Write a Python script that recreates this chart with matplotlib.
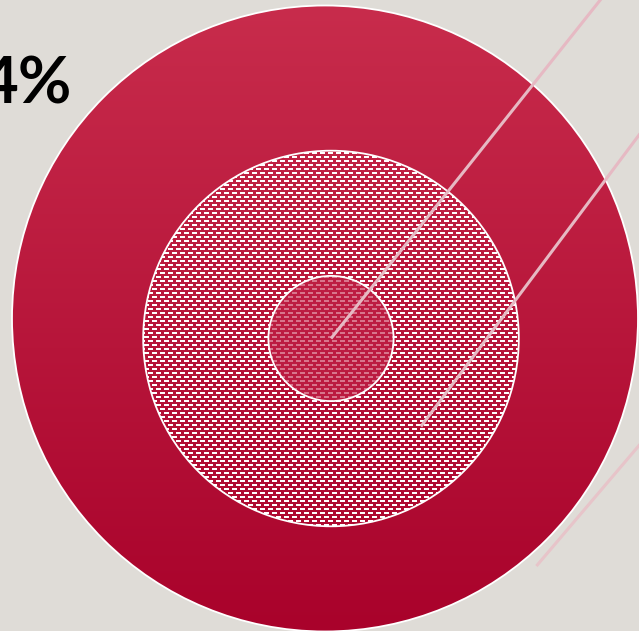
import matplotlib.pyplot as plt
import numpy as np
from matplotlib.patches import Circle

W, H = 639, 631

# circle values (percent), circles are area-scaled
shares = [100, 36, 4]
label_text = "4%"

# leader lines: start (radius fraction, angle below horizontal) and direction angle
leader_start = [(1.04, 49.5), (0.67, 44.4), (0.0, 0.0)]
leader_dir = [49.6, 53.2, 51.5]
leader_col = ['#e7c4c9', '#e6b9c3', '#e6b9c3']

R_MAX = 313
centers = [(325, 318.5), (331, 338.5), (331, 338.5)]
radii = [R_MAX * np.sqrt(v / 100) for v in shares]

fig = plt.figure(figsize=(W / 100, H / 100), dpi=100)
fig.patch.set_facecolor('#dfdcd7')
ax = fig.add_axes([0, 0, 1, 1])
ax.set_facecolor('#dfdcd7')
ax.axis('off')

# big circle, vertical gradient
top = np.array([200, 44, 76]) / 255
bot = np.array([169, 2, 43]) / 255
t = np.linspace(0, 1, 256)[:, None]
grad = (top * (1 - t) + bot * t).reshape(256, 1, 3)
cx, cy = centers[0]
r0 = radii[0]
im = ax.imshow(grad, extent=(cx - r0, cx + r0, cy + r0, cy - r0), aspect='auto', zorder=1)
im.set_clip_path(Circle(centers[0], r0, transform=ax.transData))
ax.add_patch(Circle(centers[0], r0, fill=False, ec='white', lw=1.3, zorder=6))

# middle circle: white dash texture
yy, xx = np.mgrid[0:H, 0:W]
shift = ((yy // 4) % 2) * 4
dash = ((yy % 4) < 2) & (((xx + shift) % 8) < 5)
tex = np.zeros((H, W, 4))
tex[dash] = [1, 1, 1, 1]
im2 = ax.imshow(tex, extent=(0, W, H, 0), interpolation='nearest', aspect='auto', zorder=2)
im2.set_clip_path(Circle(centers[1], radii[1], transform=ax.transData))
ax.add_patch(Circle(centers[1], radii[1], fill=False, ec='white', lw=1.3, zorder=6))

# small circle, semi transparent
ax.add_patch(Circle(centers[2], radii[2], fc=(192 / 255, 32 / 255, 70 / 255, 0.62),
                    ec='white', lw=1.3, zorder=3))

# leader lines
for i in range(len(shares)):
    frac, ang = leader_start[i]
    x0 = centers[i][0] + frac * radii[i] * np.cos(np.radians(ang))
    y0 = centers[i][1] + frac * radii[i] * np.sin(np.radians(ang))
    d = np.radians(leader_dir[i])
    ax.plot([x0, x0 + 900 * np.cos(d)], [y0, y0 - 900 * np.sin(d)],
            color=leader_col[i], lw=2.2, solid_capstyle='butt', zorder=7)

ax.text(72, 104, label_text, ha='right', va='baseline', fontsize=47,
        fontweight='bold', family=['Lato', 'DejaVu Sans'], color='black', zorder=8)

ax.set_xlim(0, W)
ax.set_ylim(H, 0)
fig.savefig('out.png', dpi=100, facecolor=fig.get_facecolor())
